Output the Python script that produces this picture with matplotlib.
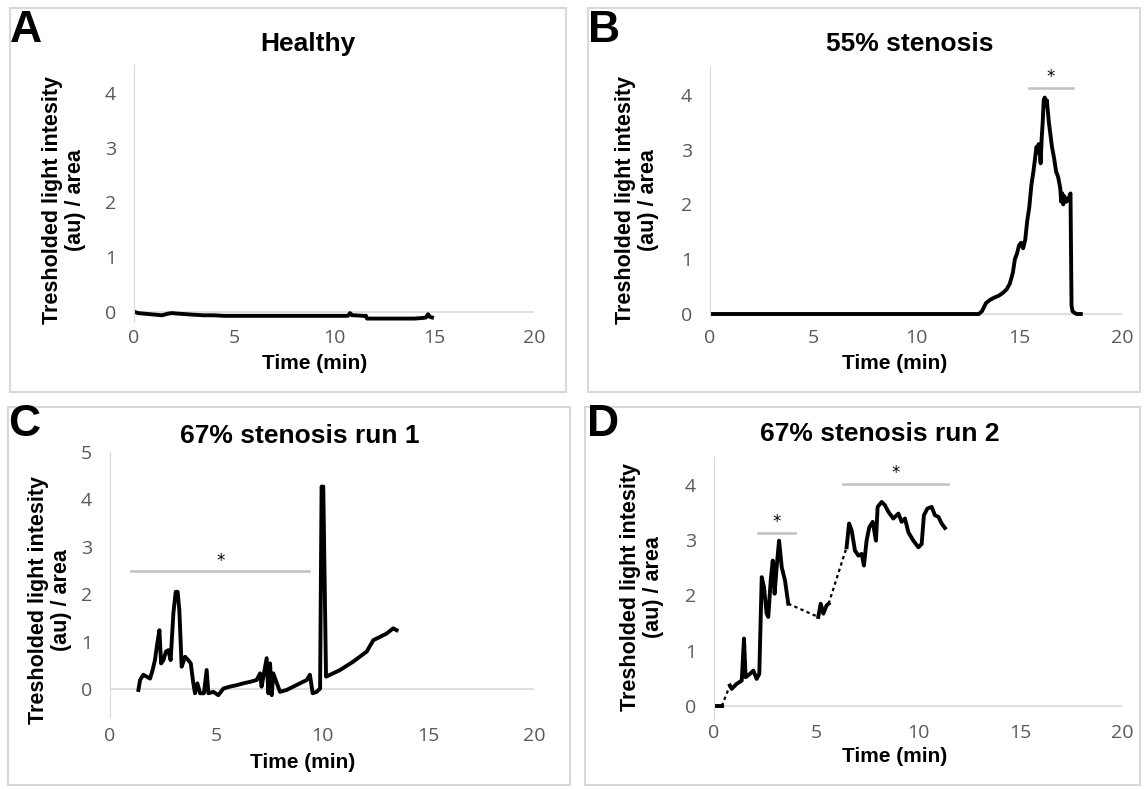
import numpy as np
import matplotlib.pyplot as plt
from matplotlib.patches import Rectangle

W, H = 1144, 789

# ---- data ----
# A: healthy
a_time = [0.05, 0.2, 0.5, 0.8, 1.1, 1.4, 1.7, 1.9, 2.2, 2.6, 3.0, 3.5, 4.0, 4.5, 5.0,
          6.0, 7.0, 8.0, 9.0, 10.0, 10.7, 10.8, 10.9, 11.0, 11.5, 11.6, 11.65, 12.0,
          13.0, 14.0, 14.4, 14.6, 14.7, 14.8, 14.9]
a_val = [0.0, -0.02, -0.03, -0.04, -0.05, -0.06, -0.03, -0.02, -0.03, -0.04, -0.05,
         -0.06, -0.06, -0.07, -0.07, -0.07, -0.07, -0.07, -0.07, -0.07, -0.07, -0.02,
         -0.06, -0.06, -0.07, -0.07, -0.12, -0.12, -0.12, -0.12, -0.11, -0.1, -0.04,
         -0.09, -0.1]

# B: 55% stenosis
b_time = [0.0, 13.05, 13.2, 13.4, 13.6, 13.8, 14.0, 14.2, 14.4, 14.55, 14.7, 14.8, 14.9,
          15.0, 15.1, 15.2, 15.3, 15.4, 15.5, 15.6, 15.7, 15.8, 15.85, 15.9, 15.95, 16.0,
          16.05, 16.1, 16.15, 16.2, 16.25, 16.3, 16.35, 16.4, 16.45, 16.5, 16.6, 16.7,
          16.8, 16.9, 17.0, 17.05, 17.1, 17.15, 17.2, 17.3, 17.4, 17.5, 17.55, 17.6,
          17.7, 17.8, 17.9, 18.0]
b_val = [0.0, 0.0, 0.05, 0.2, 0.26, 0.3, 0.33, 0.38, 0.45, 0.55, 0.75, 1.0, 1.1, 1.25,
         1.3, 1.2, 1.35, 1.7, 1.95, 2.35, 2.6, 2.9, 3.05, 2.95, 3.1, 3.0, 2.75, 3.2, 3.5,
         3.9, 3.95, 3.8, 3.9, 3.7, 3.5, 3.35, 3.05, 2.85, 2.6, 2.5, 2.3, 2.05, 2.2, 2.0,
         2.15, 2.05, 2.1, 2.2, 0.15, 0.05, 0.02, 0.0, 0.0, 0.0]

# C: 67% stenosis run 1
c_time = [1.34, 1.42, 1.57, 1.73, 1.89, 2.01, 2.12, 2.23, 2.33, 2.41, 2.52, 2.64, 2.75,
          2.86, 2.99, 3.10, 3.19, 3.27, 3.38, 3.54, 3.69, 3.81, 3.93, 4.01, 4.12, 4.25,
          4.43, 4.56, 4.64, 4.87, 5.11, 5.35, 5.66, 5.97, 6.29, 6.60, 6.92, 7.08, 7.15,
          7.39, 7.47, 7.55, 7.63, 7.70, 8.02, 8.33, 8.65, 8.96, 9.28, 9.43, 9.56, 9.75,
          9.91, 9.98, 10.06, 10.19, 10.38, 10.85, 11.48, 12.11, 12.42, 12.74, 13.05,
          13.36, 13.52]
c_val = [-0.02, 0.19, 0.30, 0.26, 0.22, 0.40, 0.61, 0.96, 1.24, 0.54, 0.61, 0.79, 0.82,
         0.61, 1.60, 2.05, 2.05, 1.67, 0.47, 0.68, 0.61, 0.54, 0.12, -0.09, 0.12, -0.09,
         -0.09, 0.40, -0.09, -0.06, -0.13, 0.01, 0.05, 0.08, 0.12, 0.15, 0.19, 0.33, 0.05,
         0.65, -0.09, 0.54, -0.13, 0.33, -0.06, -0.02, 0.05, 0.12, 0.19, 0.30, -0.09,
         -0.06, 0.01, 4.27, 4.27, 0.26, 0.30, 0.40, 0.58, 0.79, 1.03, 1.10, 1.17, 1.28,
         1.24]

# D: 67% stenosis run 2, recorded pieces (gaps joined by a dotted line)
d_time = [[0.05, 0.38],
          [0.78, 0.87, 1.11, 1.36, 1.47, 1.55, 1.76, 1.93, 2.09, 2.22, 2.34, 2.45, 2.58,
           2.66, 2.78, 2.88, 2.97, 3.07, 3.19, 3.32, 3.48, 3.64],
          [5.11, 5.23, 5.36, 5.52, 5.62],
          [6.5, 6.62, 6.75, 6.91, 7.08, 7.24, 7.35, 7.48, 7.61, 7.78, 7.94, 8.02, 8.22,
           8.38, 8.55, 8.79, 9.04, 9.2, 9.36, 9.53, 9.77, 10.02, 10.18, 10.29, 10.46,
           10.67, 10.83, 11.0, 11.16, 11.32]]
d_val = [[0.0, 0.0],
         [0.37, 0.31, 0.4, 0.46, 1.22, 0.52, 0.58, 0.64, 0.49, 0.58, 2.33, 2.15, 1.67,
          1.61, 2.27, 2.63, 2.03, 2.51, 2.99, 2.51, 2.27, 1.85],
         [1.61, 1.85, 1.67, 1.82, 1.85],
         [2.87, 3.3, 3.17, 2.81, 2.72, 2.75, 2.54, 2.99, 3.23, 3.33, 2.99, 3.6, 3.69,
          3.63, 3.51, 3.39, 3.48, 3.33, 3.39, 3.14, 2.99, 2.87, 2.93, 3.45, 3.57, 3.6,
          3.45, 3.42, 3.3, 3.22]]

# significance bars: (start, end, height)
b_bars = [(15.5, 17.6, 4.12)]
c_bars = [(1.0, 9.4, 2.5)]
d_bars = [(2.17, 3.97, 3.13), (6.34, 11.49, 4.02)]

ylab = "Tresholded light intesity\n(au) / area"
grey = "#d9d9d9"
tick_grey = "#595959"
bold = dict(family="Liberation Sans", weight="bold")

fig = plt.figure(figsize=(W / 100, H / 100), dpi=100)

def fx(x):
    return x / W

def fy(y):
    return 1 - y / H

# panel boxes
for x0, y0, x1, y1 in [(10, 8, 566, 392), (588, 8, 1140, 392),
                       (8, 407, 570, 785), (585, 407, 1140, 785)]:
    fig.patches.append(Rectangle((fx(x0), fy(y1)), fx(x1 - x0), (y1 - y0) / H,
                                 transform=fig.transFigure, fill=False,
                                 edgecolor=grey, lw=1.5))

def make_axes(x0, x1, y0, unit, ylo, yhi, xpad):
    top = y0 - yhi * unit
    bot = y0 - ylo * unit
    ax = fig.add_axes([fx(x0), fy(bot), fx(x1 - x0), (bot - top) / H])
    ax.set_xlim(0, 20)
    ax.set_ylim(ylo, yhi)
    for s in ["top", "right", "bottom"]:
        ax.spines[s].set_visible(False)
    ax.spines["left"].set_color(grey)
    ax.axhline(0, color=grey, lw=1.2, zorder=0)
    ax.set_xticks([0, 5, 10, 15, 20])
    ax.set_yticks(range(int(yhi) + 1))
    ax.tick_params(axis="both", length=0, labelsize=14, labelcolor=tick_grey)
    ax.tick_params(axis="x", pad=xpad)
    ax.tick_params(axis="y", pad=13)
    for lab in ax.get_xticklabels() + ax.get_yticklabels():
        lab.set_family("Open Sans")
    ax.patch.set_alpha(0)
    return ax

def draw_bars(ax, bars):
    for s, e, h in bars:
        ax.plot([s, e], [h, h], color="#c0c0c0", lw=1.8)
        ax.text((s + e) / 2, h + 0.2, "*", ha="center", va="center", fontsize=12)

line = dict(color="black", lw=2.8, solid_joinstyle="round")

# A
ax = make_axes(134, 534, 312, 54.8, -0.18, 4.5, 5)
ax.plot(a_time, a_val, **line)

# B
ax = make_axes(710, 1122, 314, 54.8, -0.05, 4.5, 9)
ax.plot(b_time, b_val, **line)
draw_bars(ax, b_bars)

# C
ax = make_axes(110, 534, 689, 47.4, -0.6, 5.0, 7)
ax.plot(c_time, c_val, **line)
draw_bars(ax, c_bars)

# D
ax = make_axes(714, 1122, 706, 55.3, -0.25, 4.5, 3)
for i in range(len(d_time) - 1):
    ax.plot([d_time[i][-1], d_time[i + 1][0]], [d_val[i][-1], d_val[i + 1][0]],
            color="black", lw=1.6, ls=(0, (1.5, 1.5)))
for xs, ys in zip(d_time, d_val):
    ax.plot(xs, ys, **line)
draw_bars(ax, d_bars)

# texts
for letter, x, y in [("A", 26, 30), ("B", 604, 30), ("C", 24, 424), ("D", 603, 424)]:
    fig.text(fx(x), fy(y), letter, ha="center", va="center", fontsize=32, **bold)

for title, x, y in [("Healthy", 308, 44), ("55% stenosis", 910, 44),
                    ("67% stenosis run 1", 300, 436), ("67% stenosis run 2", 880, 434)]:
    fig.text(fx(x), fy(y), title, ha="center", va="center", fontsize=19, **bold)

for x, y in [(315, 363), (895, 363), (303, 762), (895, 756)]:
    fig.text(fx(x), fy(y), "Time (min)", ha="center", va="center", fontsize=15, **bold)

for x, y in [(64, 200), (637, 200), (50, 600), (642, 587)]:
    fig.text(fx(x), fy(y), ylab, ha="center", va="center", rotation=90,
             fontsize=15.5, linespacing=1.1, multialignment="center", **bold)

fig.savefig("out.png", dpi=100)
